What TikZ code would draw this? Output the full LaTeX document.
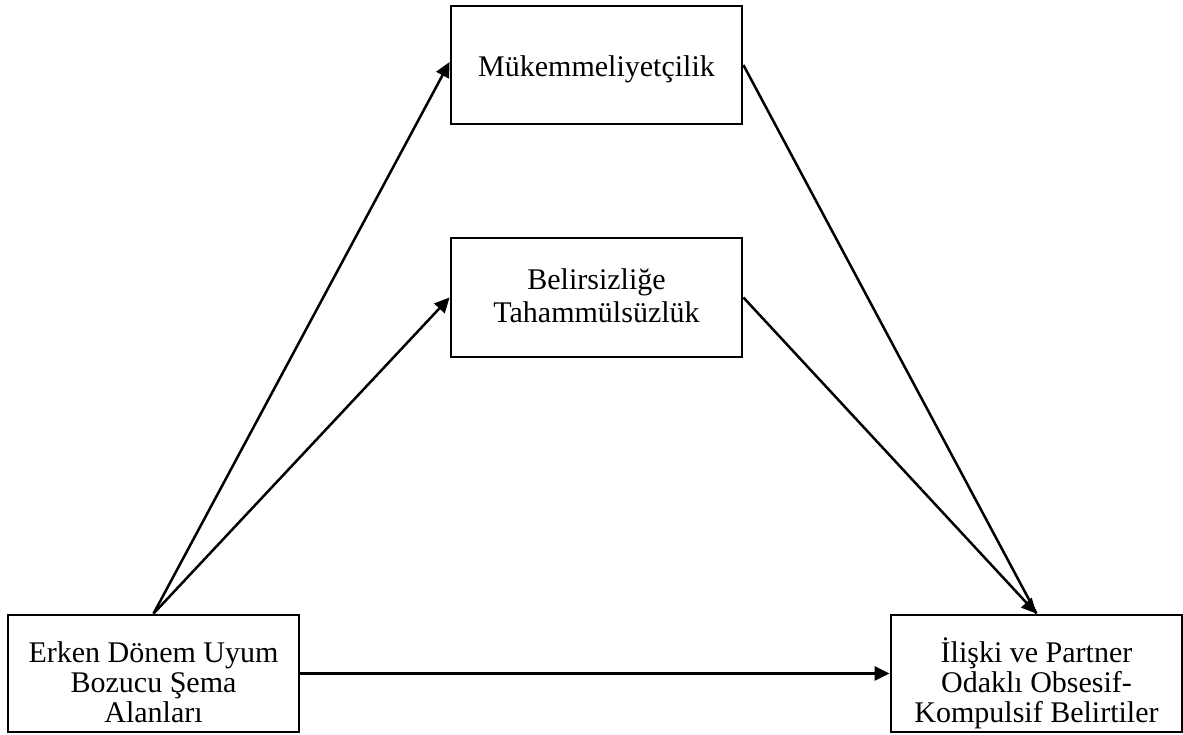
\documentclass[tikz,border=0pt]{standalone}
\usepackage{fontspec}
\setmainfont{Liberation Serif}
\usetikzlibrary{arrows.meta}
\begin{document}
\begin{tikzpicture}[x=1pt,y=-1pt,
  box/.style={draw, line width=2.8pt, minimum width=291pt, inner sep=0pt},
  txt/.style={align=center, font=\fontsize{30}{30}\selectfont, inner sep=0pt},
  conn/.style={line width=2.5pt, -{Triangle[length=15pt,width=14pt]}},
  link/.style={line width=2.5pt}]
\useasboundingbox (0,0) rectangle (1183,735);
\node[box, minimum height=118pt] (M) at (596.5,65) {};
\node[box, minimum height=119pt] (B) at (596.5,297.5) {};
\node[box, minimum height=117pt] (E) at (153.5,673.5) {};
\node[box, minimum height=117pt] (I) at (1036.5,673.5) {};
\node[txt, anchor=base] (Mt) at (596.5,77) {Mükemmeliyetçilik};
\node[txt, anchor=base] (Bt1) at (596.5,290) {Belirsizliğe};
\node[txt, anchor=base] (Bt2) at (596.5,323) {Tahammülsüzlük};
\node[txt, anchor=base] (Et1) at (153.5,662) {Erken Dönem Uyum};
\node[txt, anchor=base] (Et2) at (153.5,692) {Bozucu Şema};
\node[txt, anchor=base] (Et3) at (153.5,722) {Alanları};
\node[txt, anchor=base] (It1) at (1036.5,662) {İlişki ve Partner};
\node[txt, anchor=base] (It2) at (1036.5,692) {Odaklı Obsesif-};
\node[txt, anchor=base] (It3) at (1036.5,722) {Kompulsif Belirtiler};
\coordinate (Min) at ([yshift=3pt]M.west);
\draw[conn] (E.north) -- (Min);
\draw[conn] (E.north) -- (B.west);
\draw[link] (M.east) -- (I.north);
\draw[conn] (B.east) -- (I.north);
\draw[conn] (E.east) -- (I.west);
\end{tikzpicture}
\end{document}
